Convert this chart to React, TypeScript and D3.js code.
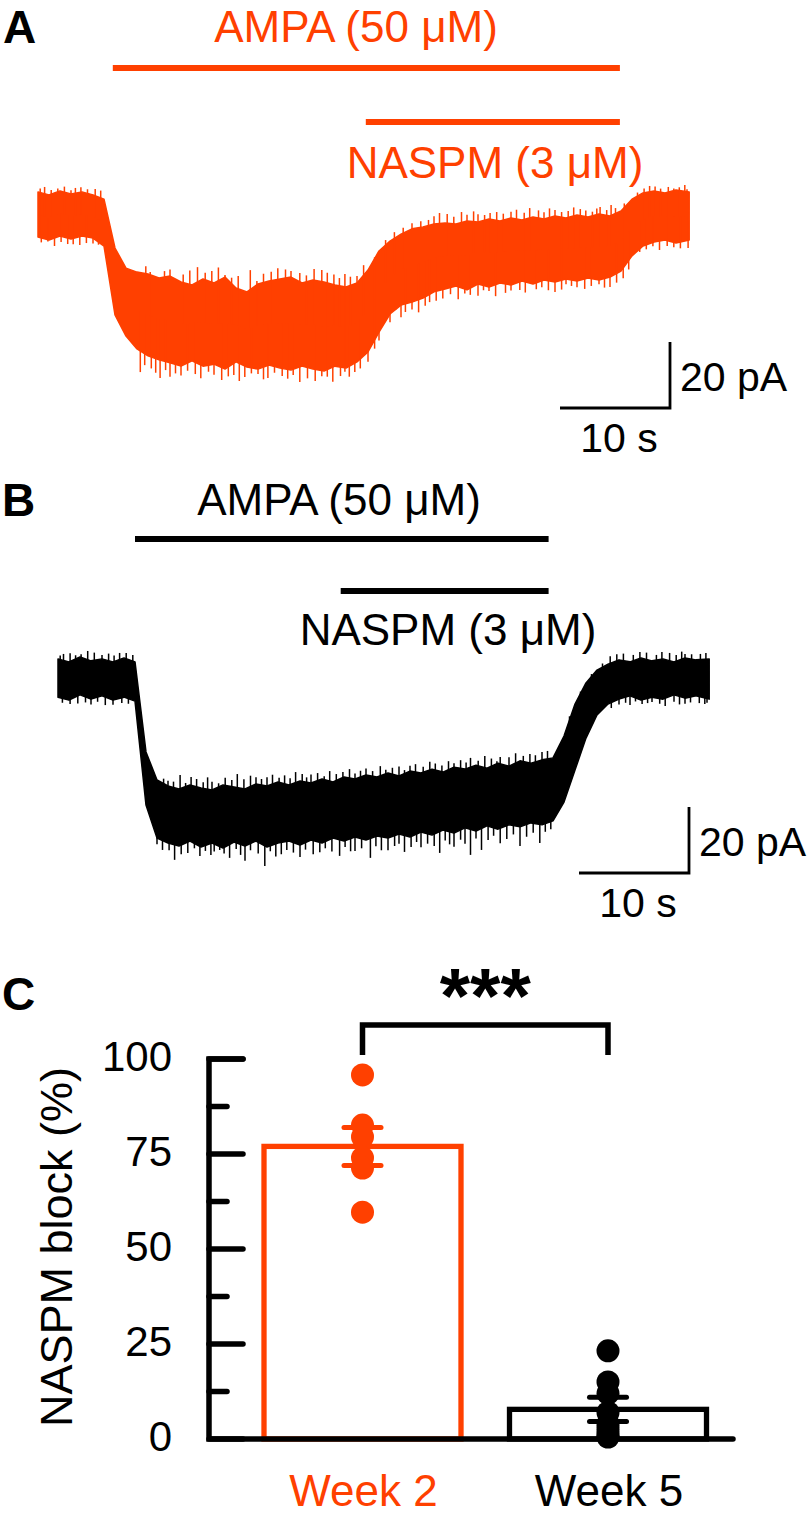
import React from "react";
import * as d3 from "d3";

const ORANGE = "#ff4000";
const BLACK = "#000000";
const FONT = "'Liberation Sans', Arial, Helvetica, sans-serif";

// ---------- Traces (time in s, current in pA relative to holding baseline) ----------
const sampleTimes = [
  0, 1, 2, 3, 4, 5, 6, 7, 8, 9, 10, 11, 12, 13, 14, 15, 16, 17, 18, 19, 20, 21, 22, 23, 24, 25, 26, 27, 28, 29,
  30, 31, 32, 33, 34, 35, 36, 37, 38, 39, 40, 41, 42, 43, 44, 45, 46, 47, 48, 49, 50, 51, 52, 53, 54, 55, 56, 57, 58, 59.2,
];

// Panel A (week 2) envelope: upper / lower edge of the noisy current band
const week2Upper = [
  7.0, 6.1, 7.3, 6.4, 7.0, 6.1, 4.8, -10.0, -16.1, -17.3, -17.9, -19.1, -18.5, -20.3, -21.2, -19.4, -20.6, -18.8, -22.1, -23.3,
  -20.9, -20.0, -19.4, -18.8, -20.6, -19.7, -20.3, -21.2, -21.8, -20.6, -16.7, -10.9, -7.9, -5.8, -4.2, -3.6, -2.7, -2.4, -2.7, -1.8,
  -2.1, -1.2, -1.8, -0.9, -1.5, -0.6, -1.2, -0.3, -0.9, 0, -0.6, 0.3, -0.3, 1.2, 4.8, 6.7, 7.3, 6.7, 7.6, 7.0,
];
const week2Lower = [
  -6.7, -7.6, -6.4, -7.3, -6.4, -7.0, -9.4, -30.3, -36.7, -40.6, -42.7, -43.9, -44.8, -45.8, -44.2, -45.8, -45.2, -46.7, -44.5, -46.1,
  -46.7, -45.5, -46.4, -47.0, -45.8, -46.7, -47.3, -45.8, -46.4, -44.5, -41.5, -35.5, -30.0, -27.3, -26.4, -25.2, -23.3, -22.4, -21.5, -22.7,
  -20.9, -21.8, -20.6, -21.2, -20.0, -20.9, -19.7, -20.3, -19.4, -20.0, -19.1, -19.7, -18.8, -17.0, -12.4, -9.4, -8.2, -7.6, -8.5, -7.6,
];
const week2SpikesUp: [number, number][] = [
  [0.2, 8.0], [0.6, 8.5], [1.2, 7.6], [1.8, 8.0], [2.4, 8.6], [3.0, 7.5], [3.4, 8.2], [3.9, 8.4], [4.5, 7.8], [5.2, 7.9], [5.7, 7.4],
  [9.8, -15.5], [10.2, -17.3], [11.5, -17.0], [12.0, -16.5], [13.2, -18.0], [13.8, -16.8], [14.5, -15.8], [15.2, -17.5], [15.8, -17.0],
  [16.4, -15.9], [17.0, -18.2], [17.6, -19.0], [18.2, -18.5], [19.3, -16.7], [19.9, -20.0], [20.5, -17.8], [21.2, -17.2], [21.8, -16.1],
  [22.5, -16.5], [23.0, -17.0], [23.8, -17.6], [24.4, -18.3], [25.1, -16.4], [25.8, -16.7], [26.3, -17.5], [26.9, -18.0], [27.4, -19.1],
  [27.9, -17.9], [28.4, -18.7], [29.0, -18.5], [29.6, -15.2],
  [30.6, -12.8], [31.6, -7.6], [32.4, -5.2], [33.2, -3.9], [34.0, -2.5], [34.8, -1.9], [35.5, -1.5], [36.0, -0.4], [36.5, 0.6],
  [37.2, 0.3], [37.8, -0.5], [38.5, 0.9], [39.0, 0.1], [39.6, 1.1], [40.0, 0.2], [40.6, 0.0], [41.1, 0.6], [41.7, 0.9], [42.3, 0.4],
  [43.0, 1.0], [43.5, 1.6], [44.2, 0.7], [44.7, 2.1], [45.5, 1.4], [46.0, 0.8], [46.5, 2.0], [47.0, 1.5], [47.6, 0.9], [48.2, 1.2],
  [48.7, 2.3], [49.3, 1.8], [49.8, 1.4], [50.4, 1.0], [50.8, 2.0], [51.1, 2.4], [51.7, 1.5], [52.1, 3.0], [52.5, 2.1], [53.3, 3.5],
  [54.5, 6.8], [55.1, 8.0], [55.6, 8.8], [56.1, 8.6], [56.6, 8.0], [57.3, 8.5], [57.8, 8.0], [58.3, 8.4], [58.8, 9.1], [59.0, 7.8],
];
const week2SpikesDown: [number, number][] = [
  [0.3, -8.3], [0.9, -8.0], [1.5, -9.4], [2.1, -8.2], [2.7, -8.8], [3.2, -8.9], [3.8, -9.1], [4.4, -8.5], [5.0, -8.6], [5.5, -9.0],
  [9.3, -47.6], [9.7, -45.5], [10.3, -46.5], [10.7, -47.8], [11.1, -49.4], [11.6, -47.0], [12.0, -49.0], [12.5, -48.0], [13.0, -48.6],
  [13.6, -47.2], [14.3, -48.2], [14.8, -49.5], [15.5, -47.5], [16.0, -48.4], [16.7, -50.0], [17.3, -48.9], [17.8, -48.5], [18.3, -50.3],
  [18.8, -49.1], [19.4, -48.0], [20.0, -48.2], [20.5, -49.8], [20.9, -49.4], [21.5, -47.8], [22.2, -48.8], [22.7, -49.6], [23.2, -48.5],
  [23.8, -50.6], [24.5, -49.5], [25.2, -50.3], [25.8, -48.9], [26.3, -49.0], [26.8, -50.5], [27.5, -48.8], [27.9, -47.5], [28.3, -49.0],
  [28.8, -47.6], [29.3, -46.5], [30.0, -44.5], [30.6, -40.5], [31.0, -38.0], [31.5, -32.4], [32.0, -32.5], [32.5, -28.8], [33.0, -31.0],
  [33.4, -29.4], [34.0, -28.6], [34.6, -29.5], [35.2, -27.5], [35.6, -26.4], [36.2, -26.0], [36.8, -25.3], [37.5, -24.0], [38.2, -25.5],
  [38.8, -23.8], [39.3, -24.2], [40.0, -24.5], [40.5, -22.8], [41.0, -23.0], [41.6, -24.6], [42.5, -23.6], [43.0, -22.9], [43.8, -22.7],
  [44.3, -23.5], [45.3, -22.5], [45.8, -21.9], [46.4, -22.8], [47.0, -23.3], [47.6, -22.6], [48.0, -21.0], [48.5, -21.5], [49.0, -21.9],
  [49.7, -22.4], [50.3, -21.5], [51.0, -21.0], [51.5, -22.0], [52.0, -21.8], [52.6, -20.5], [53.2, -19.2], [53.7, -16.5],
  [54.7, -11.2], [55.3, -10.4], [55.9, -9.5], [56.5, -10.6], [57.2, -9.4], [57.8, -9.8], [58.4, -10.1], [59.1, -10.0],
];

// Panel B (week 5) envelope
const week5Upper = [
  6.4, 5.5, 7.0, 5.8, 6.4, 5.5, 6.7, 5.5, -21.8, -30.3, -32.1, -33.0, -31.8, -32.7, -33.3, -31.8, -32.4, -33.0, -31.5, -32.1,
  -30.9, -31.8, -30.6, -31.2, -30.0, -30.9, -29.4, -30.0, -28.8, -29.4, -28.2, -29.1, -27.6, -28.2, -27.0, -27.9, -26.4, -27.0, -25.8, -26.7,
  -25.2, -26.1, -24.5, -25.2, -24.2, -23.6, -17.0, -7.3, -0.9, 3.0, 4.8, 6.1, 5.5, 6.7, 5.8, 6.4, 5.5, 6.7, 6.1, 6.4,
];
const week5Lower = [
  -5.2, -6.1, -4.5, -5.8, -4.8, -6.1, -5.2, -6.4, -37.9, -47.9, -49.4, -50.3, -48.8, -50.6, -49.4, -50.9, -49.1, -50.3, -48.8, -50.6,
  -49.4, -48.8, -50.0, -48.5, -49.4, -47.9, -48.8, -47.6, -48.5, -47.3, -47.9, -46.7, -47.6, -46.1, -47.0, -45.5, -46.4, -44.8, -45.8, -44.2,
  -45.2, -43.9, -44.5, -43.3, -43.9, -42.7, -37.0, -27.3, -17.6, -10.6, -7.3, -5.8, -4.8, -6.1, -5.2, -5.8, -4.5, -5.5, -4.8, -5.8,
];
const week5SpikesUp: [number, number][] = [
  [0.2, 7.4], [0.5, 7.9], [1.1, 8.1], [1.6, 7.5], [2.1, 7.8], [2.7, 8.8], [3.3, 8.3], [4.0, 7.6], [4.6, 8.0], [5.1, 7.4], [5.6, 8.2],
  [6.2, 8.2], [6.8, 7.6],
  [9.6, -29.9], [10.0, -30.5], [10.5, -30.8], [11.1, -28.8], [11.6, -31.2], [12.1, -29.4], [12.6, -30.0], [13.2, -31.0], [13.6, -29.5],
  [14.0, -30.8], [14.6, -31.3], [15.2, -29.6], [15.8, -30.3], [16.3, -28.5], [16.9, -30.1], [17.5, -29.0], [18.0, -29.5], [18.5, -30.0],
  [19.0, -29.5], [19.5, -28.7], [20.1, -29.6], [20.6, -28.9], [21.1, -29.8], [21.6, -27.9], [22.2, -28.5], [22.6, -29.5], [23.0, -28.6],
  [23.6, -28.2], [24.2, -29.2], [24.7, -27.6], [25.3, -28.5], [25.9, -27.9], [26.5, -27.0], [27.0, -28.3], [27.5, -27.5], [28.0, -26.8],
  [28.6, -27.6], [29.3, -26.1], [29.8, -27.2], [30.4, -26.6], [31.0, -26.2], [31.5, -27.3], [32.0, -26.0], [32.5, -25.5], [33.2, -26.3],
  [33.8, -24.8], [34.3, -25.3], [34.9, -25.9], [35.5, -24.6], [36.0, -25.2], [36.6, -24.3], [37.1, -25.0], [37.5, -23.6], [38.2, -24.5],
  [38.8, -23.0], [39.4, -23.8], [39.9, -24.6], [40.2, -23.3], [41.0, -23.4], [41.6, -22.2], [42.3, -23.0], [42.9, -22.4], [43.4, -22.8],
  [44.0, -21.8], [44.5, -21.5],
  [46.5, -11.0], [47.5, -3.5], [48.5, 1.8], [49.5, 5.0], [50.2, 7.2], [50.8, 7.8], [51.4, 8.0], [52.3, 7.6], [52.9, 8.5], [53.5, 8.3],
  [54.4, 7.6], [54.9, 8.5], [55.6, 8.2], [56.2, 7.6], [56.7, 8.6], [57.0, 7.9], [57.6, 7.8], [58.4, 7.9], [58.9, 8.2],
];
const week5SpikesDown: [number, number][] = [
  [0.4, -6.9], [1.1, -7.3], [1.8, -7.1], [2.5, -6.8], [3.0, -7.4], [3.6, -6.6], [4.3, -7.6], [5.0, -7.5], [5.8, -7.0], [6.4, -7.2],
  [7.2, -8.5],
  [9.0, -49.8], [9.5, -51.5], [10.1, -51.6], [10.6, -54.5], [11.2, -52.8], [11.8, -52.4], [12.4, -51.0], [12.9, -53.3], [13.4, -51.8],
  [13.9, -53.0], [14.2, -52.0], [14.7, -51.5], [15.1, -52.6], [15.6, -53.9], [16.2, -51.2], [16.6, -53.0], [17.0, -54.8], [17.5, -51.6],
  [18.2, -52.6], [18.8, -56.4], [19.3, -51.9], [19.8, -53.5], [20.3, -52.8], [20.8, -51.5], [21.4, -52.3], [22.0, -53.6], [22.5, -51.4],
  [23.2, -52.8], [23.8, -52.2], [24.3, -51.0], [24.9, -52.0], [25.6, -53.3], [26.1, -50.6], [26.6, -51.9], [27.0, -51.8], [27.6, -51.0],
  [28.4, -53.9], [28.9, -50.4], [29.4, -51.6], [30.0, -51.6], [30.6, -50.3], [31.0, -49.6], [31.5, -52.1], [32.1, -50.6], [32.6, -49.1],
  [33.0, -50.7], [33.6, -49.6], [34.2, -50.3], [34.7, -52.4], [35.2, -48.6], [35.6, -49.8], [36.0, -50.5], [36.6, -48.4], [37.0, -49.6],
  [37.5, -53.0], [38.0, -48.0], [38.5, -51.5], [39.1, -48.5], [39.6, -47.2], [40.2, -49.5], [40.8, -48.2], [41.4, -46.8], [42.0, -50.3],
  [42.6, -47.5], [43.2, -46.3], [43.8, -49.4], [44.3, -46.0], [44.8, -45.2],
  [50.3, -8.5], [51.0, -7.4], [51.6, -6.9], [52.0, -7.6], [52.5, -6.5], [53.1, -7.3], [53.6, -7.0], [54.0, -6.7], [54.7, -7.2],
  [55.2, -7.9], [56.0, -6.6], [56.5, -7.4], [57.0, -7.2], [57.5, -6.8], [58.3, -7.0], [58.8, -7.3], [59.0, -6.9],
];

// Drug application periods (s)
const week2Ampa = [6.8, 52.9];
const week2Naspm = [29.8, 52.9];
const week5Ampa = [7.0, 44.6];
const week5Naspm = [25.7, 44.6];

// ---------- Panel C ----------
const groups = ["Week 2", "Week 5"];
const groupMeans = [77.0, 7.8];
const groupSems = [5.0, 3.2];
const week2Block = [95.8, 82.6, 79.5, 74.0, 71.3, 59.7];
const week5Block = [23.2, 15.0, 12.0, 7.0, 4.0, 3.0, 2.0, 1.0, 0.5];
const yMajorTicks = [0, 25, 50, 75, 100];
const yMinorTicks = [12.5, 37.5, 62.5, 87.5];

function interpAt(times: number[], arr: number[], t: number) {
  const i = d3.bisectRight(times, t);
  if (i <= 0) return arr[0];
  if (i >= times.length) return arr[arr.length - 1];
  const t0 = times[i - 1], t1 = times[i];
  const f = (t - t0) / (t1 - t0);
  return arr[i - 1] + (arr[i] - arr[i - 1]) * f;
}

type TraceProps = {
  color: string;
  x0: number;
  zeroY: number;
  upper: number[];
  lower: number[];
  spikesUp: [number, number][];
  spikesDown: [number, number][];
  ampa: number[];
  naspm: number[];
  ampaBarY: number;
  naspmBarY: number;
  ampaText: { x: number; y: number };
  naspmText: { x: number; y: number };
  scaleCorner: { x: number; y: number };
};

function TracePanel(p: TraceProps) {
  const tMax = sampleTimes[sampleTimes.length - 1];
  const x = d3.scaleLinear().domain([0, tMax]).range([p.x0, p.x0 + tMax * 11]);
  const y = d3.scaleLinear().domain([-60, 20]).range([p.zeroY + 60 * 3.3, p.zeroY - 20 * 3.3]);
  const idx = d3.range(sampleTimes.length);
  const area = d3
    .area<number>()
    .x((i) => x(sampleTimes[i]))
    .y0((i) => y(p.lower[i]))
    .y1((i) => y(p.upper[i]));
  const d = area(idx) || "";
  const mid = (t: number) => (interpAt(sampleTimes, p.upper, t) + interpAt(sampleTimes, p.lower, t)) / 2;
  const len10s = x(10) - x(0);
  const len20pA = y(0) - y(20);
  const c = p.scaleCorner;
  return (
    <g>
      <path d={d} fill={p.color} stroke={p.color} strokeWidth={1.5} strokeLinejoin="round" />
      {[...p.spikesUp, ...p.spikesDown].map(([t, v], i) => (
        <line key={i} x1={x(t)} x2={x(t)} y1={y(mid(t))} y2={y(v)} stroke={p.color} strokeWidth={1.5} />
      ))}
      <line x1={x(p.ampa[0])} x2={x(p.ampa[1])} y1={p.ampaBarY} y2={p.ampaBarY} stroke={p.color} strokeWidth={6} />
      <line x1={x(p.naspm[0])} x2={x(p.naspm[1])} y1={p.naspmBarY} y2={p.naspmBarY} stroke={p.color} strokeWidth={6} />
      <text x={p.ampaText.x} y={p.ampaText.y} textAnchor="middle" fontSize={44} fill={p.color} fontFamily={FONT}>
        AMPA (50 μM)
      </text>
      <text x={p.naspmText.x} y={p.naspmText.y} textAnchor="middle" fontSize={44} fill={p.color} fontFamily={FONT}>
        NASPM (3 μM)
      </text>
      <path
        d={`M${c.x - len10s},${c.y}H${c.x}V${c.y - len20pA}`}
        fill="none"
        stroke={BLACK}
        strokeWidth={2.8}
      />
      <text x={c.x + 10} y={c.y - 17} fontSize={41} fontFamily={FONT} fill={BLACK}>
        20 pA
      </text>
      <text x={c.x - 51} y={c.y + 44} textAnchor="middle" fontSize={41} fontFamily={FONT} fill={BLACK}>
        10 s
      </text>
    </g>
  );
}

function BarPanel() {
  const y = d3.scaleLinear().domain([0, 100]).range([1439, 1059]);
  const x = d3.scalePoint<string>().domain(groups).range([362.5, 608]);
  const barW = 197;
  const colors = [ORANGE, BLACK];
  const pts = [week2Block, week5Block];
  const axisX = 209;
  const axisEnd = 733;
  const capHalf = 18.5;
  const bx0 = x(groups[0])!;
  const bx1 = x(groups[1])!;
  const bracketTop = 1025;
  const bracketLeg = 1055;
  return (
    <g fontFamily={FONT}>
      {groups.map((g, i) => {
        const cx = x(g)!;
        return (
          <rect
            key={g}
            x={cx - barW / 2}
            y={y(groupMeans[i])}
            width={barW}
            height={y(0) - y(groupMeans[i])}
            fill="white"
            stroke={colors[i]}
            strokeWidth={5.3}
          />
        );
      })}
      {groups.map((g, i) =>
        pts[i].map((v, j) => <circle key={g + j} cx={x(g)!} cy={y(v)} r={11.5} fill={colors[i]} />)
      )}
      {groups.map((g, i) => {
        const cx = x(g)!;
        const top = y(groupMeans[i] + groupSems[i]);
        const bot = y(groupMeans[i] - groupSems[i]);
        return (
          <g key={"e" + g} stroke={colors[i]} strokeWidth={5} strokeLinecap="round">
            <line x1={cx} x2={cx} y1={top} y2={bot} />
            <line x1={cx - capHalf} x2={cx + capHalf} y1={top} y2={top} />
            <line x1={cx - capHalf} x2={cx + capHalf} y1={bot} y2={bot} />
          </g>
        );
      })}
      <path
        d={`M${axisX + 34},${y(100)}H${axisX}V${y(0)}H${axisEnd}`}
        fill="none"
        stroke={BLACK}
        strokeWidth={5.5}
        strokeLinecap="round"
        strokeLinejoin="miter"
      />
      {yMajorTicks.map((t) => (
        <line key={"M" + t} x1={axisX} x2={axisX + 34} y1={y(t)} y2={y(t)} stroke={BLACK} strokeWidth={5.5} strokeLinecap="round" />
      ))}
      {yMinorTicks.map((t) => (
        <line key={"m" + t} x1={axisX} x2={axisX + 18} y1={y(t)} y2={y(t)} stroke={BLACK} strokeWidth={5.5} strokeLinecap="round" />
      ))}
      {yMajorTicks.map((t) => (
        <text key={"l" + t} x={172} y={y(t) + 12} textAnchor="end" fontSize={42} fill={BLACK}>
          {t}
        </text>
      ))}
      <text transform={`translate(72,1247) rotate(-90)`} textAnchor="middle" fontSize={45} fill={BLACK}>
        NASPM block (%)
      </text>
      {groups.map((g, i) => (
        <text key={"g" + g} x={x(g)! + 1} y={1506} textAnchor="middle" fontSize={44} fill={colors[i]}>
          {g}
        </text>
      ))}
      <path
        d={`M${bx0},${bracketLeg}V${bracketTop}H${bx1}V${bracketLeg}`}
        fill="none"
        stroke={BLACK}
        strokeWidth={5.5}
      />
      <text x={(bx0 + bx1) / 2} y={1023} textAnchor="middle" fontSize={78} fontWeight="bold" fill={BLACK}>
        ***
      </text>
    </g>
  );
}

export default function App() {
  return (
    <svg
      width={810}
      height={1516}
      viewBox="0 0 810 1516"
      style={{ position: "absolute", left: 0, top: 0, background: "white" }}
    >
      <rect x={0} y={0} width={810} height={1516} fill="white" />
      <text x={3} y={43} fontSize={46} fontWeight="bold" fontFamily={FONT}>A</text>
      <text x={2} y={516} fontSize={46} fontWeight="bold" fontFamily={FONT}>B</text>
      <text x={2} y={1010} fontSize={46} fontWeight="bold" fontFamily={FONT}>C</text>
      <TracePanel
        color={ORANGE}
        x0={38}
        zeroY={215}
        upper={week2Upper}
        lower={week2Lower}
        spikesUp={week2SpikesUp}
        spikesDown={week2SpikesDown}
        ampa={week2Ampa}
        naspm={week2Naspm}
        ampaBarY={68}
        naspmBarY={122}
        ampaText={{ x: 356, y: 42 }}
        naspmText={{ x: 495, y: 178 }}
        scaleCorner={{ x: 670, y: 408 }}
      />
      <TracePanel
        color={BLACK}
        x0={58}
        zeroY={680}
        upper={week5Upper}
        lower={week5Lower}
        spikesUp={week5SpikesUp}
        spikesDown={week5SpikesDown}
        ampa={week5Ampa}
        naspm={week5Naspm}
        ampaBarY={539}
        naspmBarY={591}
        ampaText={{ x: 339, y: 515 }}
        naspmText={{ x: 448, y: 645 }}
        scaleCorner={{ x: 689, y: 873 }}
      />
      <BarPanel />
    </svg>
  );
}
